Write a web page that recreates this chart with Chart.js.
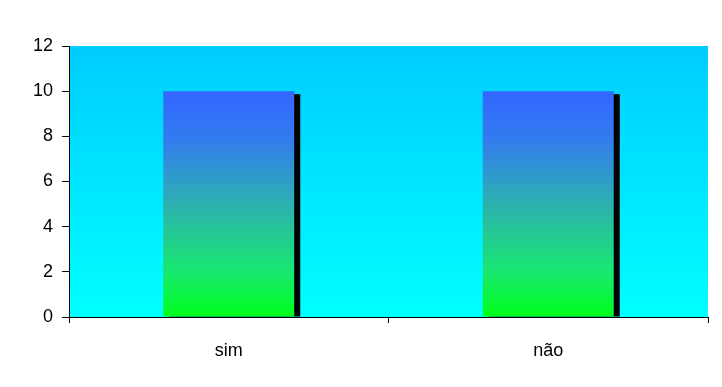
<!DOCTYPE html>
<html>
<head>
<meta charset="utf-8">
<script src="https://cdn.jsdelivr.net/npm/chart.js@4/dist/chart.umd.min.js"></script>
<style>
    html, body { margin: 0; padding: 0; background: #ffffff; }
    #wrap { width: 722px; height: 387px; }
</style>
</head>
<body>
<div id="wrap"><canvas id="chart" width="722" height="387"></canvas></div>
<script>
const categories = ["sim", "não"];
const values = [10, 10];
const yTicks = [0, 2, 4, 6, 8, 10, 12];

// Plot area background (blue at top fading to cyan)
const plotBackground = {
    id: "plotBackground",
    beforeDraw(chart) {
        const { ctx, chartArea: a } = chart;
        const g = ctx.createLinearGradient(0, a.top, 0, a.bottom);
        g.addColorStop(0, "#00ccff");
        g.addColorStop(1, "#00ffff");
        ctx.save();
        ctx.fillStyle = g;
        ctx.fillRect(a.left, a.top, a.right - a.left, a.bottom - a.top);
        ctx.restore();
    }
};

// Black drop shadow behind each bar
const barShadow = {
    id: "barShadow",
    beforeDatasetsDraw(chart) {
        const ctx = chart.ctx;
        ctx.save();
        ctx.fillStyle = "#000000";
        chart.getDatasetMeta(0).data.forEach(bar => {
            const w = bar.width;
            ctx.fillRect(bar.x - w / 2 + 6, bar.y + 3, w, bar.base - bar.y - 3);
        });
        ctx.restore();
    }
};

function barGradient(context) {
    const chart = context.chart;
    if (!chart.chartArea) return "#3366ff";
    const y = chart.scales.y;
    const g = chart.ctx.createLinearGradient(0, y.getPixelForValue(10), 0, y.getPixelForValue(0));
    g.addColorStop(0, "#3366ff");
    g.addColorStop(0.2, "#337af0");
    g.addColorStop(0.5, "#2db0b0");
    g.addColorStop(0.8, "#18e870");
    g.addColorStop(1, "#00ff1a");
    return g;
}

const font = { family: "'Liberation Sans', Arial, sans-serif", size: 18 };

new Chart(document.getElementById("chart").getContext("2d"), {
    type: "bar",
    data: {
        labels: categories,
        datasets: [{
            data: values,
            backgroundColor: barGradient,
            borderWidth: 0,
            categoryPercentage: 1,
            barPercentage: 0.41
        }]
    },
    options: {
        responsive: false,
        animation: false,
        layout: { padding: { top: 46, right: 14, left: 0, bottom: 0 } },
        plugins: { legend: { display: false }, tooltip: { enabled: false } },
        scales: {
            x: {
                grid: { offset: true, drawOnChartArea: false, drawTicks: true, tickLength: 6, color: "#000000" },
                border: { display: true, color: "#000000", width: 1 },
                ticks: { color: "#000000", font: font, padding: 17 },
                afterFit(s) { s.height = 70; }
            },
            y: {
                min: 0,
                max: 12,
                afterBuildTicks(s) { s.ticks = yTicks.map(v => ({ value: v })); },
                grid: { drawOnChartArea: false, drawTicks: true, tickLength: 7, color: "#000000" },
                border: { display: true, color: "#000000", width: 1 },
                ticks: { color: "#000000", font: font, padding: 9 },
                afterFit(s) { s.width = 69; }
            }
        }
    },
    plugins: [plotBackground, barShadow]
});
</script>
</body>
</html>
